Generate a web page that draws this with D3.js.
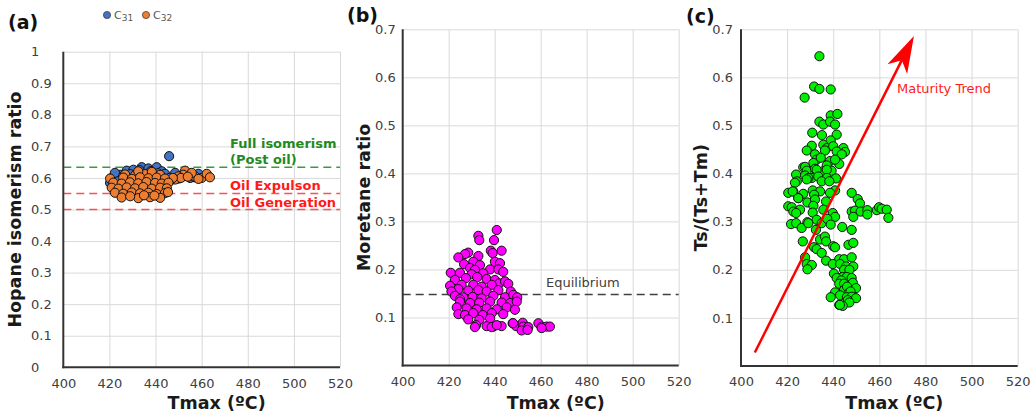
<!DOCTYPE html>
<html>
<head>
<meta charset="utf-8">
<script src="https://cdn.jsdelivr.net/npm/d3@7"></script>
<style>
  body { margin: 0; background: #fff; }
  svg { display: block; }
  text { font-family: "DejaVu Sans", Verdana, sans-serif; }
</style>
</head>
<body>
<svg id="chart" width="1033" height="415"></svg>
<script>
// ---- tick values ----
const tmaxTicks = [400, 420, 440, 460, 480, 500, 520];
const hopaneTicks = [0, 0.1, 0.2, 0.3, 0.4, 0.5, 0.6, 0.7, 0.8, 0.9, 1];
const ratioTicks = [0.1, 0.2, 0.3, 0.4, 0.5, 0.6, 0.7];

// ---- (a) hopane isomerism ratio vs Tmax ----
const c31 = [
  [421.0,0.600],[424.6,0.610],[427.5,0.623],[430.4,0.626],[434.0,0.634],[436.9,0.630],
  [440.5,0.634],[442.7,0.621],[432.5,0.616],[444.1,0.613],[420.3,0.584],[455.0,0.600],
  [458.6,0.613],[454.2,0.613],[448.5,0.616],[445.9,0.669],[422.4,0.616],[426.0,0.605],
  [429.0,0.612],[433.0,0.625],[438.0,0.622],[441.0,0.615],[424.0,0.590],[428.0,0.598],
  [436.0,0.605],[446.0,0.600],[450.0,0.598],[431.0,0.595],[439.0,0.600],[443.0,0.592],
  [452.0,0.605],[457.0,0.602]
];
const c32 = [
  [452.8,0.623],[452.1,0.610],[449.9,0.605],[448.5,0.595],[446.3,0.591],[457.1,0.605],
  [460.0,0.600],[462.2,0.613],[463.6,0.602],[455.7,0.616],[458.6,0.597],[451.0,0.600],
  [447.5,0.600],[454.0,0.604],
  [426.8,0.611],[431.1,0.608],[435.4,0.612],[439.0,0.607],[442.0,0.610],
  [432.5,0.621],[438.4,0.619],
  [420.3,0.598],[426.0,0.601],[429.7,0.597],[433.3,0.602],[436.9,0.599],[440.5,0.601],[444.1,0.598],
  [421.7,0.585],[425.3,0.582],[428.9,0.586],[432.5,0.583],[436.1,0.587],[439.8,0.584],[442.7,0.582],[445.6,0.585],
  [421.0,0.569],[423.9,0.566],[427.5,0.570],[431.1,0.567],[434.7,0.571],[438.4,0.566],[442.0,0.569],[444.9,0.567],
  [422.4,0.553],[426.0,0.550],[429.7,0.554],[433.3,0.551],[436.9,0.553],[440.5,0.549],[444.1,0.552],[445.4,0.555],
  [425.3,0.538],[432.5,0.536],[437.6,0.539],[442.0,0.537],[429.0,0.542],[435.0,0.545],[439.5,0.544]
];
const hopaneFull = 0.634;
const oilExpulsion = 0.551;
const oilGeneration = 0.5;

// ---- (b) moretane ratio vs Tmax ----
const moretane = [
  [440.9,0.282],[432.9,0.270],[433.3,0.261],[439.7,0.261],[443.0,0.239],[438.3,0.239],
  [439.1,0.234],[428.5,0.235],[427.1,0.232],[432.9,0.228],[424.2,0.225],
  [426.7,0.211],[430.7,0.216],[433.6,0.209],[440.1,0.216],[442.3,0.213],
  [429.3,0.203],[431.4,0.199],[438.0,0.200],[441.6,0.200],
  [420.9,0.193],[424.9,0.193],[430.0,0.190],[435.0,0.192],[443.7,0.195],
  [427.5,0.182],[432.4,0.184],[436.5,0.180],[440.1,0.178],[422.7,0.178],
  [442.0,0.171],[444.5,0.175],[445.9,0.170],[420.6,0.166],[425.6,0.168],[430.7,0.168],
  [434.3,0.164],[438.7,0.168],
  [424.2,0.159],[428.5,0.156],[432.9,0.157],[436.5,0.154],[441.6,0.157],[447.0,0.154],[421.2,0.154],
  [422.7,0.145],[426.3,0.142],[430.4,0.143],[434.3,0.140],[439.4,0.145],[444.5,0.142],
  [448.1,0.147],[449.8,0.142],[424.9,0.138],
  [424.9,0.133],[429.3,0.130],[433.3,0.131],[438.0,0.133],[443.0,0.131],[446.7,0.130],[449.6,0.133],
  [423.5,0.121],[427.8,0.119],[432.2,0.117],[436.5,0.119],[440.9,0.117],[445.2,0.121],[448.8,0.116],
  [424.2,0.107],[427.1,0.105],[430.7,0.109],[434.8,0.105],[438.7,0.109],[443.7,0.107],
  [428.5,0.096],[433.3,0.095],[438.0,0.098],
  [431.9,0.084],[436.5,0.082],[439.4,0.081],[443.0,0.082],[447.8,0.088],[449.3,0.082],
  [452.2,0.089],[452.4,0.081],[454.6,0.080],[459.0,0.088],[460.4,0.081],[462.6,0.081],[464.0,0.081],
  [451.7,0.073],[454.3,0.074],[460.4,0.078],[431.4,0.080],[438.7,0.080],[440.9,0.084],[448.0,0.088]
];
const equilibrium = 0.148;

// ---- (c) Ts/(Ts+Tm) vs Tmax ----
const tsTm = [
  [434.0,0.644],[431.7,0.581],[434.0,0.576],[438.9,0.575],[427.6,0.558],
  [438.9,0.521],[441.8,0.524],[434.0,0.508],[435.7,0.502],[438.6,0.508],[440.8,0.502],
  [430.9,0.485],[435.1,0.480],[441.5,0.481],[438.9,0.469],
  [430.7,0.458],[435.7,0.460],[437.2,0.453],[440.0,0.457],[444.4,0.453],[445.1,0.445],
  [428.5,0.448],[432.1,0.440],[436.4,0.448],[441.5,0.446],[443.7,0.440],
  [432.8,0.429],[434.6,0.433],[438.6,0.426],[442.6,0.420],[440.8,0.429],
  [427.0,0.413],[431.4,0.422],[437.2,0.417],[427.8,0.414],
  [428.5,0.406],[432.1,0.410],[435.7,0.405],[439.3,0.406],[432.8,0.408],[437.2,0.408],
  [423.9,0.398],[427.8,0.396],[430.7,0.391],[433.5,0.394],[437.2,0.391],[441.2,0.390],[429.2,0.391],
  [424.2,0.384],[428.5,0.388],[435.0,0.384],[438.3,0.384],[423.4,0.381],
  [431.1,0.365],[434.3,0.363],[440.8,0.365],[420.5,0.360],[422.7,0.363],[427.0,0.358],
  [431.7,0.356],[438.6,0.360],[448.0,0.360],[422.4,0.363],
  [424.9,0.349],[428.8,0.340],[432.1,0.346],[436.9,0.342],[450.6,0.347],[451.6,0.338],[424.8,0.349],
  [420.5,0.332],[422.0,0.330],[425.6,0.325],[431.4,0.333],[448.0,0.321],[449.5,0.323],
  [451.9,0.321],[454.8,0.324],[454.8,0.315],[458.9,0.324],[459.9,0.330],[461.0,0.327],
  [463.2,0.325],[463.9,0.308],[448.7,0.310],[422.7,0.321],
  [423.9,0.318],[431.1,0.319],[435.7,0.325],[439.8,0.318],[440.8,0.310],
  [421.7,0.295],[423.9,0.297],[426.3,0.287],[428.8,0.299],[432.8,0.304],[432.5,0.283],
  [435.0,0.297],[437.4,0.306],[438.9,0.294],[443.9,0.289],[448.0,0.283],[429.2,0.297],
  [426.8,0.259],[434.3,0.263],[436.4,0.269],[436.9,0.259],[446.6,0.252],[448.7,0.256],
  [431.7,0.247],[432.8,0.243],[435.0,0.235],[440.0,0.249],[440.8,0.247],
  [427.8,0.226],[436.9,0.219],[442.6,0.222],[444.7,0.222],[448.0,0.226],
  [428.5,0.212],[430.7,0.210],[439.8,0.212],[443.0,0.212],[445.6,0.207],[448.7,0.207],
  [428.8,0.201],[444.7,0.200],[447.0,0.200],
  [440.3,0.192],[442.2,0.183],[444.1,0.185],[445.9,0.185],[448.0,0.183],[441.5,0.183],[443.5,0.178],
  [442.6,0.171],[444.7,0.171],[448.0,0.169],[448.5,0.173],[449.9,0.162],[444.7,0.158],[446.0,0.165],
  [446.6,0.151],[440.8,0.153],[447.5,0.155],[443.0,0.147],[438.9,0.143],[445.9,0.143],[448.0,0.144],
  [449.9,0.141],[446.3,0.137],[447.0,0.132],[442.6,0.127],[444.1,0.125],[442.9,0.127]
];
const trendTmax = [406, 475];
const trendRatio = [0.028, 0.686];

// ---- drawing ----
const svg = d3.select("#chart");
const gridColor = "#d9d9d9";
const axisColor = "#333333";
const labelColor = "#404040";

function drawPanel(cfg) {
  const x = d3.scaleLinear().domain([400, 520]).range([cfg.left, cfg.right]);
  const y = d3.scaleLinear().domain(cfg.yDomain).range([cfg.bottom, cfg.top]);
  const g = svg.append("g");

  // grid
  g.append("g")
    .attr("transform", `translate(0,${cfg.bottom})`)
    .call(d3.axisBottom(x).tickValues(tmaxTicks.slice(1)).tickSize(-(cfg.bottom - cfg.top)).tickFormat(""))
    .call(s => s.select(".domain").remove())
    .call(s => s.selectAll("line").attr("stroke", gridColor).attr("stroke-width", 1));
  g.append("g")
    .attr("transform", `translate(${cfg.left},0)`)
    .call(d3.axisLeft(y).tickValues(cfg.yTicks.filter(v => v > 0)).tickSize(-(cfg.right - cfg.left)).tickFormat(""))
    .call(s => s.select(".domain").remove())
    .call(s => s.selectAll("line").attr("stroke", gridColor).attr("stroke-width", 1));

  // tick labels
  const xa = g.append("g")
    .attr("transform", `translate(0,${cfg.bottom})`)
    .call(d3.axisBottom(x).tickValues(tmaxTicks).tickSize(0).tickPadding(11).tickFormat(d3.format("d")));
  xa.select(".domain").remove();
  xa.selectAll("text").attr("font-size", 13).attr("fill", labelColor)
    .attr("font-family", "DejaVu Sans, Verdana, sans-serif");

  const ya = g.append("g")
    .attr("transform", `translate(${cfg.left},0)`)
    .call(d3.axisLeft(y).tickValues(cfg.yTicks).tickSize(0).tickPadding(cfg.yPad).tickFormat(d => String(+d.toFixed(1))));
  ya.select(".domain").remove();
  ya.selectAll("text").attr("font-size", 13).attr("fill", labelColor)
    .attr("font-family", "DejaVu Sans, Verdana, sans-serif");
  if (cfg.yStartX !== undefined) {
    ya.selectAll("text").attr("text-anchor", "start").attr("x", cfg.yStartX - cfg.left);
  }

  // axis titles
  g.append("text")
    .attr("x", (cfg.left + cfg.right) / 2 + 15)
    .attr("y", 409)
    .attr("text-anchor", "middle")
    .attr("font-size", 17.5).attr("font-weight", "bold").attr("fill", "#1a1a1a")
    .text("Tmax (ºC)");
  g.append("text")
    .attr("transform", `translate(${cfg.titleX},${(cfg.top + cfg.bottom) / 2}) rotate(-90)`)
    .attr("text-anchor", "middle")
    .attr("dy", "0.35em")
    .attr("font-size", 17.5).attr("font-weight", "bold").attr("fill", "#1a1a1a")
    .text(cfg.yTitle);

  // panel letter
  g.append("text")
    .attr("x", cfg.letterX).attr("y", cfg.letterY)
    .attr("font-family", "Liberation Sans, Arial, sans-serif")
    .attr("font-size", 19).attr("font-weight", "bold").attr("fill", "#111")
    .text(cfg.letter);

  return { g, x, y };
}

function axesLines(p, cfg) {
  p.g.append("line")
    .attr("x1", cfg.left).attr("x2", cfg.left).attr("y1", cfg.top).attr("y2", cfg.bottom + 1)
    .attr("stroke", axisColor).attr("stroke-width", 2);
  p.g.append("line")
    .attr("x1", cfg.left - 1).attr("x2", cfg.right).attr("y1", cfg.bottom).attr("y2", cfg.bottom)
    .attr("stroke", axisColor).attr("stroke-width", 2);
}

function dots(p, data, fill) {
  p.g.append("g").selectAll("circle").data(data).join("circle")
    .attr("cx", d => p.x(d[0])).attr("cy", d => p.y(d[1])).attr("r", 4.6)
    .attr("fill", fill).attr("stroke", "#111").attr("stroke-width", 1);
}

function hline(p, cfg, v, color, width) {
  p.g.append("line")
    .attr("x1", cfg.left).attr("x2", cfg.right)
    .attr("y1", p.y(v)).attr("y2", p.y(v))
    .attr("stroke", color).attr("stroke-width", width).attr("stroke-dasharray", "8,5");
}

// (a)
const cfgA = { left: 63.3, right: 340, top: 51.7, bottom: 367.3, yDomain: [0, 1], yTicks: hopaneTicks,
  yPad: 12, yStartX: 31, titleX: 15, yTitle: "Hopane isomerism ratio", letter: "(a)", letterX: 8, letterY: 29 };
const pA = drawPanel(cfgA);
hline(pA, cfgA, hopaneFull, "#3c9a3c", 1.5);
hline(pA, cfgA, oilExpulsion, "#ff5050", 1.5);
hline(pA, cfgA, oilGeneration, "#ff5050", 1.5);
dots(pA, c31, "#4472c4");
dots(pA, c32, "#ed7d31");
axesLines(pA, cfgA);
const noteA = [
  { t: "Full isomerism", v: hopaneFull, dy: -19, c: "#1f8a1f" },
  { t: "(Post oil)", v: hopaneFull, dy: -3, c: "#1f8a1f" },
  { t: "Oil Expulson", v: oilExpulsion, dy: -3, c: "#ff1a1a" },
  { t: "Oil Generation", v: oilGeneration, dy: -3, c: "#ff1a1a" }
];
pA.g.selectAll(".note").data(noteA).join("text")
  .attr("x", 230).attr("y", d => pA.y(d.v) + d.dy)
  .attr("font-size", 13).attr("font-weight", "bold").attr("fill", d => d.c)
  .text(d => d.t);

// legend
const legend = svg.append("g").attr("font-size", 11).attr("fill", "#595959");
[{ name: "31", color: "#4472c4", x: 107 }, { name: "32", color: "#ed7d31", x: 146 }].forEach(s => {
  legend.append("circle").attr("cx", s.x).attr("cy", 15).attr("r", 3.6)
    .attr("fill", s.color).attr("stroke", "#333").attr("stroke-width", 0.7);
  const t = legend.append("text").attr("x", s.x + 7).attr("y", 19);
  t.append("tspan").text("C");
  t.append("tspan").attr("font-size", 9).attr("dy", 2).text(s.name);
});

// (b)
const cfgB = { left: 402.7, right: 678.7, top: 29.3, bottom: 365.5, yDomain: [0, 0.7], yTicks: ratioTicks,
  yPad: 7, titleX: 364, yTitle: "Moretane ratio", letter: "(b)", letterX: 347, letterY: 22 };
const pB = drawPanel(cfgB);
hline(pB, cfgB, equilibrium, "#404040", 1.5);
pB.g.append("text").attr("x", 546).attr("y", pB.y(equilibrium) - 7)
  .attr("font-size", 13).attr("fill", labelColor).text("Equilibrium");
dots(pB, moretane, "#ff00ff");
axesLines(pB, cfgB);

// (c)
const cfgC = { left: 741, right: 1017.7, top: 29.3, bottom: 366, yDomain: [0, 0.7], yTicks: ratioTicks,
  yPad: 8, titleX: 701, yTitle: "Ts/(Ts+Tm)", letter: "(c)", letterX: 686, letterY: 23 };
const pC = drawPanel(cfgC);
dots(pC, tsTm, "#00ee00");
axesLines(pC, cfgC);

// maturity trend arrow
const sx = pC.x(trendTmax[0]), sy = pC.y(trendRatio[0]);
const tx = pC.x(trendTmax[1]), ty = pC.y(trendRatio[1]);
const len = Math.hypot(tx - sx, ty - sy);
const ux = (tx - sx) / len, uy = (ty - sy) / len;
const nx = -uy, ny = ux;
const headL = 37, headW = 11, notch = 10;
const nxp = tx - (headL - notch) * ux, nyp = ty - (headL - notch) * uy;
pC.g.append("line")
  .attr("x1", sx).attr("y1", sy).attr("x2", nxp).attr("y2", nyp)
  .attr("stroke", "#ff0000").attr("stroke-width", 2.5);
pC.g.append("path")
  .attr("d", d3.line()([
    [tx, ty],
    [tx - headL * ux + headW * nx, ty - headL * uy + headW * ny],
    [nxp, nyp],
    [tx - headL * ux - headW * nx, ty - headL * uy - headW * ny]
  ]) + "Z")
  .attr("fill", "#ff0000");
pC.g.append("text").attr("x", 897).attr("y", 93)
  .attr("font-size", 13).attr("fill", "#ff2020").text("Maturity Trend");
</script>
</body>
</html>
